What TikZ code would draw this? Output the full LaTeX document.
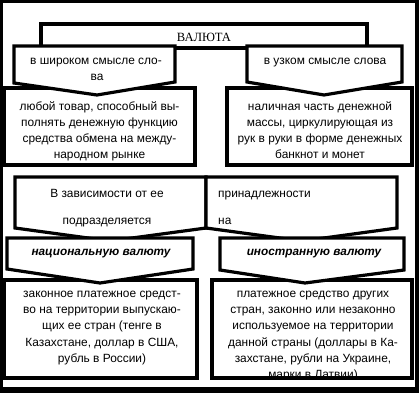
\documentclass[tikz,border=0pt]{standalone}
\usepackage{fontspec}
\setmainfont{Liberation Sans}
\newfontfamily\seriffont{Liberation Serif}
\begin{document}
\begin{tikzpicture}[x=1pt,y=-1pt,
  box/.style={draw=black,line width=3.2pt,fill=white,line join=miter},
  txt/.style={inner sep=0pt,anchor=base,font=\fontsize{11.9}{15}\selectfont},
  ltxt/.style={txt,anchor=base west},
  btxt/.style={inner sep=0pt,anchor=base,font=\fontsize{11.8}{15}\selectfont\bfseries\itshape},
  ttl/.style={inner sep=0pt,anchor=base,font=\fontsize{12.6}{15}\selectfont\seriffont}]
\useasboundingbox (0,0) rectangle (419,393);
\fill[black] (0,0) rectangle (419,393);
\fill[white] (3,3) rectangle (415,387);
% title box
\draw[box] (41,24) rectangle (367,48);
% top text boxes
\draw[box] (4.5,88) rectangle (195,165);
\draw[box] (227,88) rectangle (412,165);
% top arrows
\draw[box] (14,46) -- (175,46) -- (175,82) -- (97,95) -- (14,83) -- cycle;
\draw[box] (247,46) -- (402,46) -- (402,82) -- (324,95) -- (247,82) -- cycle;
% big box (two arrows)
\draw[box] (15,177) -- (206,177) -- (206,228) -- (110,241) -- (15,228) -- cycle;
\draw[box] (206,177) -- (397,177) -- (397,228) -- (302,241) -- (206,228) -- cycle;
% bottom boxes
\draw[box] (4.5,280) rectangle (197,378);
\draw[box] (212,280) rectangle (412,378);
% national / foreign arrows
\draw[box] (7,238) -- (193,238) -- (193,269) -- (100,283) -- (7,269) -- cycle;
\draw[box] (220,238) -- (404,238) -- (404,270) -- (305,283) -- (220,270) -- cycle;
% texts
\node[ttl] (title) at (204,42) {ВАЛЮТА};
\node[txt] (w1) at (96,65) {в широком смысле сло-};
\node[txt] (w2) at (97,81) {ва};
\node[txt] (n1) at (325,65) {в узком смысле слова};
\node[txt] (a1) at (99.5,110) {любой товар, способный вы-};
\node[txt] (a2) at (99.5,126) {полнять денежную функцию};
\node[txt] (a3) at (99.5,142) {средства обмена на между-};
\node[txt] (a4) at (99.5,158) {народном рынке};
\node[txt] (b1) at (320,110) {наличная часть денежной};
\node[txt] (b2) at (320,126) {массы, циркулирующая из};
\node[txt] (b3) at (320,142) {рук в руки в форме денежных};
\node[txt] (b4) at (320,158) {банкнот и монет};
\node[txt] (d1) at (107,197) {В зависимости от ее};
\node[txt] (d2) at (107,224) {подразделяется};
\node[ltxt] (d3) at (218,197) {принадлежности};
\node[ltxt] (d4) at (218,224) {на};
\node[btxt] (nat) at (101,255) {национальную валюту};
\node[btxt] (for) at (314,255) {иностранную валюту};
\node[txt] (c1) at (102,297) {законное платежное средст-};
\node[txt] (c2) at (102,313) {во на территории выпускаю-};
\node[txt] (c3) at (102,329) {щих ее стран (тенге в};
\node[txt] (c4) at (102,346) {Казахстане, доллар в США,};
\node[txt] (c5) at (102,362) {рубль в России)};
\node[txt] (e1) at (313,297) {платежное средство других};
\node[txt] (e2) at (313,313) {стран, законно или незаконно};
\node[txt] (e3) at (313,329) {используемое на территории};
\node[txt] (e4) at (313,346) {данной страны (доллары в Ка-};
\node[txt] (e5) at (313,362) {захстане, рубли на Украине,};
\begin{scope}
\clip (214,282) rectangle (410,376);
\node[txt] (e6) at (313,378) {марки в Латвии)};
\end{scope}
\end{tikzpicture}
\end{document}
